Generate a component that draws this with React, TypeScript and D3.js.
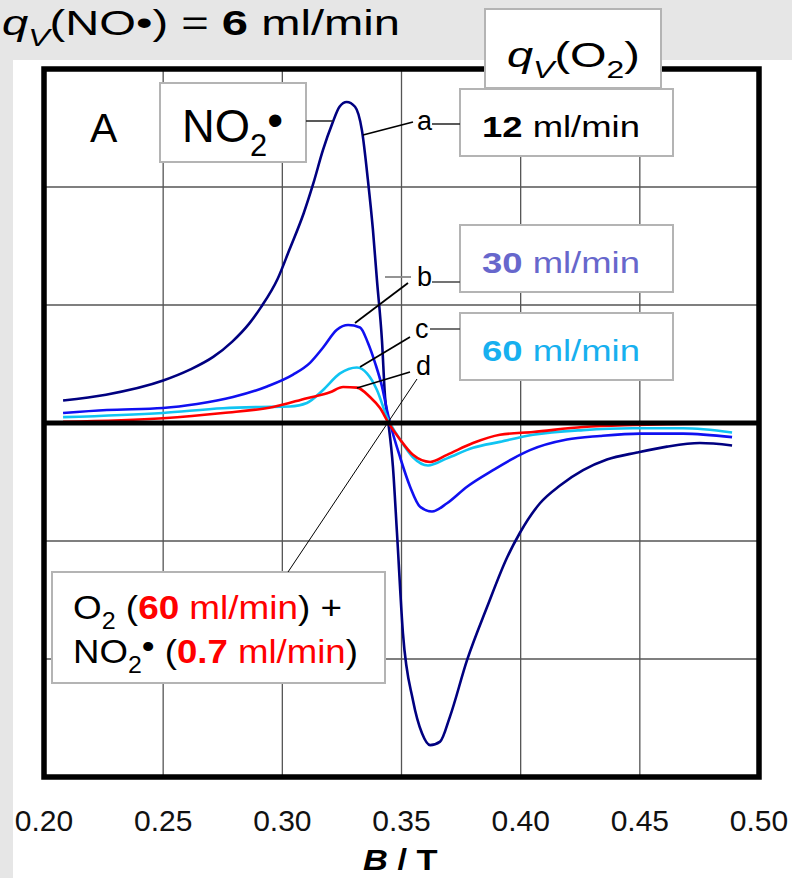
import React, { useEffect, useRef } from "react";
import * as d3 from "d3";

// field axis (T) and signal levels (in grid units)
const fieldTicks = [0.2, 0.25, 0.3, 0.35, 0.4, 0.45, 0.5];
const gridLevels = [-2, -1, 1, 2];

// a: 12 ml/min O2
const curveA: [number, number][] = [
  [0.208, 0.19], [0.226, 0.24], [0.25, 0.36], [0.261, 0.45], [0.271, 0.56],
  [0.279, 0.69], [0.286, 0.84], [0.291, 0.98], [0.298, 1.22], [0.303, 1.47],
  [0.309, 1.78], [0.313, 2.03], [0.317, 2.31], [0.321, 2.54], [0.324, 2.68],
  [0.327, 2.72], [0.3305, 2.68], [0.3334, 2.48], [0.3359, 2.06], [0.338, 1.64],
  [0.3397, 1.21], [0.3418, 0.7], [0.3431, 0.22], [0.3443, 0.03], [0.3464, -0.37],
  [0.3481, -0.93], [0.3506, -1.78], [0.3548, -2.35], [0.3586, -2.63], [0.362, -2.73],
  [0.3662, -2.7], [0.3703, -2.49], [0.3775, -2.01], [0.3859, -1.56], [0.3943, -1.14],
  [0.3997, -0.93], [0.4081, -0.68], [0.4165, -0.53], [0.4262, -0.4], [0.4362, -0.31],
  [0.4488, -0.25], [0.4614, -0.2], [0.4752, -0.17], [0.4887, -0.19],
];

// b: 30 ml/min O2
const curveB: [number, number][] = [
  [0.208, 0.085], [0.2264, 0.11], [0.2499, 0.127], [0.2642, 0.161], [0.2793, 0.22],
  [0.2936, 0.31], [0.3045, 0.41], [0.3116, 0.51], [0.3171, 0.64], [0.3229, 0.79],
  [0.3276, 0.83], [0.3326, 0.81], [0.3359, 0.68], [0.3389, 0.51], [0.3418, 0.31],
  [0.3439, 0.11], [0.3452, 0.0], [0.3494, -0.29], [0.3536, -0.54], [0.3578, -0.71],
  [0.3628, -0.75], [0.3691, -0.68], [0.3775, -0.54], [0.3884, -0.4], [0.3997, -0.27],
  [0.4039, -0.23], [0.4194, -0.14], [0.4333, -0.11], [0.4501, -0.09], [0.4681, -0.09],
  [0.4887, -0.12],
];

// c: 60 ml/min O2
const curveC: [number, number][] = [
  [0.208, 0.05], [0.2499, 0.085], [0.2751, 0.125], [0.2894, 0.135], [0.3032, 0.14],
  [0.3103, 0.17], [0.3171, 0.28], [0.3242, 0.42], [0.3313, 0.47], [0.3355, 0.42],
  [0.3397, 0.28], [0.3439, 0.05], [0.3494, -0.14], [0.3548, -0.29], [0.3611, -0.36],
  [0.3691, -0.3], [0.38, -0.21], [0.3913, -0.16], [0.4052, -0.1], [0.4262, -0.06],
  [0.4471, -0.045], [0.4681, -0.045], [0.4887, -0.08],
];

// d: 60 ml/min O2 + 0.7 ml/min NO2
const curveD: [number, number][] = [
  [0.208, 0.01], [0.2499, 0.04], [0.2751, 0.085], [0.2961, 0.136], [0.3103, 0.21],
  [0.32, 0.26], [0.3255, 0.305], [0.3313, 0.3], [0.3368, 0.22], [0.341, 0.127],
  [0.3443, 0.01], [0.3494, -0.14], [0.3548, -0.27], [0.362, -0.33], [0.3691, -0.27],
  [0.38, -0.17], [0.3913, -0.1], [0.4052, -0.076], [0.4262, -0.034], [0.4471, -0.017],
  [0.4681, -0.008], [0.4887, 0.0],
];

const series = [
  { key: "a", data: curveA, color: "#000080" },
  { key: "b", data: curveB, color: "#1010f0" },
  { key: "c", data: curveC, color: "#10c4f2" },
  { key: "d", data: curveD, color: "#ff0000" },
];

const FONT = "'Liberation Sans', Arial, sans-serif";

type Run = { t: string; b?: boolean; i?: boolean; fill?: string; sub?: boolean; sup?: boolean; raise?: number };

function rich(parent: any, x: number, y: number, size: number, runs: Run[], width?: number) {
  const g = parent.append("g").attr("transform", `translate(${x},${y})`);
  const text = g.append("text")
    .attr("font-family", FONT)
    .attr("font-size", size)
    .attr("fill", "#000")
    .style("white-space", "pre");
  let shift = 0;
  runs.forEach(r => {
    const ts = text.append("tspan").text(r.t);
    const target = r.sub ? size * 0.3 : r.sup ? -size * 0.3 : r.raise ? -r.raise : 0;
    if (target !== shift) {
      ts.attr("dy", target - shift);
      shift = target;
    }
    if (r.sub || r.sup) ts.attr("font-size", size * 0.68);
    if (r.b) ts.attr("font-weight", "bold");
    if (r.i) ts.attr("font-style", "italic");
    if (r.fill) ts.attr("fill", r.fill);
  });
  if (width) {
    const w = text.node().getBBox().width;
    if (w > 0) g.attr("transform", `translate(${x},${y}) scale(${width / w},1)`);
  }
  return g;
}

const App = () => {
  const svgRef = useRef<SVGSVGElement>(null);

  useEffect(() => {
    const svg = d3.select(svgRef.current);
    svg.selectAll("*").remove();

    const width = 792;
    const height = 878;
    const plot = { left: 44, right: 759, top: 69, bottom: 777 };

    const x = d3.scaleLinear().domain([0.2, 0.5]).range([plot.left, plot.right]);
    const y = d3.scaleLinear().domain([-3, 3]).range([plot.bottom, plot.top]);

    svg.append("rect").attr("width", width).attr("height", height).attr("fill", "#e6e6e6");
    svg.append("rect").attr("x", 13).attr("y", 60).attr("width", width - 13).attr("height", height - 60).attr("fill", "#fff");

    // grid
    svg.append("g").selectAll("line").data(fieldTicks.slice(1, -1)).join("line")
      .attr("x1", d => x(d)).attr("x2", d => x(d))
      .attr("y1", plot.top).attr("y2", plot.bottom)
      .attr("stroke", "#555").attr("stroke-width", 1.3);
    svg.append("g").selectAll("line").data(gridLevels).join("line")
      .attr("x1", plot.left).attr("x2", plot.right)
      .attr("y1", d => y(d)).attr("y2", d => y(d))
      .attr("stroke", "#555").attr("stroke-width", 1.3);

    // curves
    const line = d3.line<[number, number]>()
      .x(d => x(d[0]))
      .y(d => y(d[1]))
      .curve(d3.curveMonotoneX);

    svg.append("g").selectAll("path").data(series).join("path")
      .attr("d", s => line(s.data))
      .attr("fill", "none")
      .attr("stroke", s => s.color)
      .attr("stroke-width", 2.6)
      .attr("stroke-linejoin", "round");

    // zero line and frame
    svg.append("line")
      .attr("x1", plot.left).attr("x2", plot.right)
      .attr("y1", y(0)).attr("y2", y(0))
      .attr("stroke", "#000").attr("stroke-width", 5);
    svg.append("rect")
      .attr("x", plot.left).attr("y", plot.top)
      .attr("width", plot.right - plot.left).attr("height", plot.bottom - plot.top)
      .attr("fill", "none").attr("stroke", "#000").attr("stroke-width", 5.5);

    // tick labels
    svg.append("g").selectAll("text").data(fieldTicks).join("text")
      .attr("x", d => x(d)).attr("y", 831)
      .attr("text-anchor", "middle")
      .attr("font-family", FONT).attr("font-size", 30).attr("fill", "#111")
      .text(d => d3.format(".2f")(d));

    rich(svg, 363, 870, 29, [{ t: "B", b: true, i: true }, { t: " / T", b: true }], 75);

    // title
    rich(svg, 2, 35, 35, [
      { t: "q", i: true }, { t: "V", i: true, sub: true },
      { t: "(NO•) = " }, { t: "6", b: true }, { t: " ml/min" },
    ], 398);

    // boxes
    const box = (x0: number, y0: number, x1: number, y1: number) =>
      svg.append("rect").attr("x", x0).attr("y", y0).attr("width", x1 - x0).attr("height", y1 - y0)
        .attr("fill", "#fff").attr("stroke", "#b4b4b4").attr("stroke-width", 2);
    box(485, 9, 661, 88);
    box(460, 89, 673, 156);
    box(460, 225, 673, 292);
    box(460, 313, 673, 380);
    box(160, 83, 306, 162);
    box(52, 572, 385, 683);

    // leaders
    const leaders: [number, number, number, number, string, number][] = [
      [306, 121, 333, 121, "#222", 1.5],
      [363, 135, 413, 122, "#000", 1.8],
      [432, 124, 460, 124, "#222", 1.5],
      [385, 277, 411, 277, "#888", 1.8],
      [355, 323, 408, 283, "#000", 1.8],
      [432, 282, 460, 282, "#444", 1.5],
      [360, 367, 410, 337, "#000", 1.8],
      [430, 329, 460, 329, "#444", 1.5],
      [357, 388, 410, 372, "#000", 1.8],
      [417, 379, 288, 572, "#000", 1],
    ];
    svg.append("g").selectAll("line").data(leaders).join("line")
      .attr("x1", d => d[0]).attr("y1", d => d[1])
      .attr("x2", d => d[2]).attr("y2", d => d[3])
      .attr("stroke", d => d[4]).attr("stroke-width", d => d[5]);

    const tags: [string, number, number][] = [["a", 417, 130], ["b", 417, 286], ["c", 415, 338], ["d", 416, 375]];
    svg.append("g").selectAll("text").data(tags).join("text")
      .attr("x", d => d[1]).attr("y", d => d[2])
      .attr("font-family", FONT).attr("font-size", 27)
      .text(d => d[0]);

    rich(svg, 507, 67, 35, [
      { t: "q", i: true }, { t: "V", i: true, sub: true },
      { t: "(O" }, { t: "2", sub: true }, { t: ")" },
    ], 133);
    rich(svg, 482, 137, 30, [{ t: "12", b: true }, { t: " ml/min" }], 158);
    rich(svg, 482, 273, 30, [{ t: "30", b: true, fill: "#6767cc" }, { t: " ml/min", fill: "#6767cc" }], 158);
    rich(svg, 482, 361, 30, [{ t: "60", b: true, fill: "#17b0ef" }, { t: " ml/min", fill: "#17b0ef" }], 158);
    rich(svg, 182, 142, 46, [{ t: "NO" }, { t: "2", sub: true }, { t: "•", raise: 6 }], 101);
    rich(svg, 90, 142, 41, [{ t: "A" }]);

    rich(svg, 73, 619, 34, [
      { t: "O" }, { t: "2", sub: true }, { t: " (" },
      { t: "60", b: true, fill: "#ff0000" }, { t: " ml/min", fill: "#ff0000" },
      { t: ") +" },
    ], 269);
    rich(svg, 73, 663, 34, [
      { t: "NO" }, { t: "2", sub: true }, { t: "•", raise: 5 }, { t: " (" },
      { t: "0.7", b: true, fill: "#ff0000" }, { t: " ml/min", fill: "#ff0000" },
      { t: ")" },
    ], 285);
  }, []);

  return (
    <svg
      ref={svgRef}
      width="792"
      height="878"
      style={{ position: "absolute", left: 0, top: 0 }}
    ></svg>
  );
};

export default App;
